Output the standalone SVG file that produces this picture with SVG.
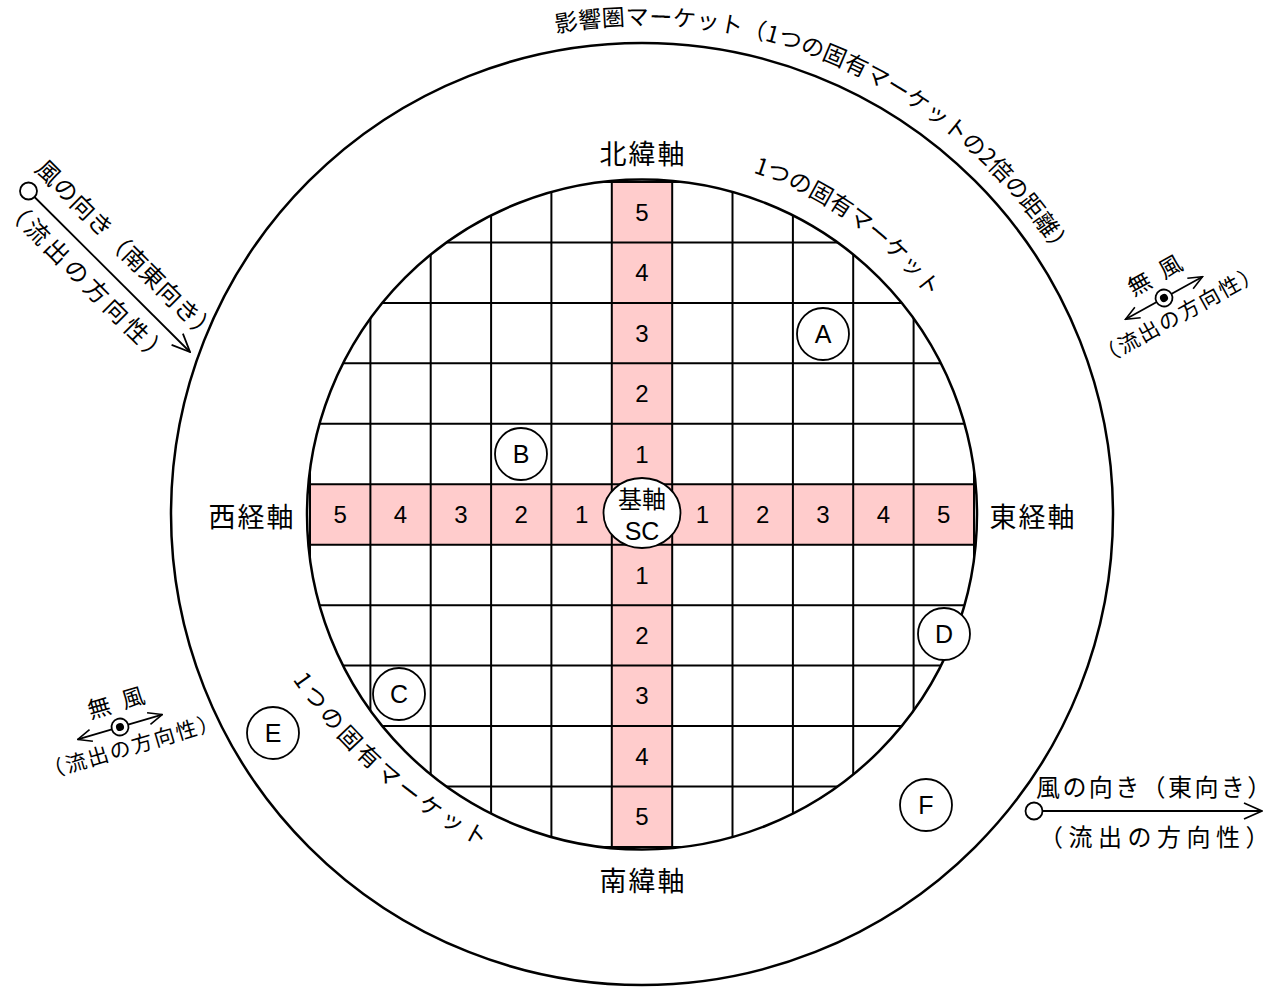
<svg xmlns="http://www.w3.org/2000/svg" width="1268" height="988" viewBox="0 0 1268 988">
<style>
.grid{fill:none;stroke:#000;stroke-width:2}
.ring{fill:none;stroke:#000;stroke-width:2.5}
.band{fill:#FFCCCC}
.num{font-family:"Liberation Sans",Arial,sans-serif;font-size:24px;text-anchor:middle;fill:#000}
.let{font-family:"Liberation Sans",Arial,sans-serif;font-size:25px;text-anchor:middle;fill:#000}
.jp{font-family:"Noto Sans CJK JP","Liberation Sans",sans-serif;fill:#000}
.axis{font-size:27px;text-anchor:middle;letter-spacing:2px}
.node circle,.node ellipse{fill:#fff;stroke:#000;stroke-width:1.8}
.arrow{fill:none;stroke:#000;stroke-width:1.8}
.half{font-feature-settings:"halt"}
</style>
<defs>
<clipPath id="innerClip"><circle cx="642" cy="514.5" r="335"/></clipPath>
<marker id="head" viewBox="0 0 20 20" refX="19" refY="10" markerWidth="20" markerHeight="20" markerUnits="userSpaceOnUse" orient="auto-start-reverse"><path d="M1,2 L19,10 L1,18" fill="none" stroke="#000" stroke-width="1.8"/></marker>
<marker id="headS" viewBox="0 0 16 16" refX="15" refY="8" markerWidth="16" markerHeight="16" markerUnits="userSpaceOnUse" orient="auto-start-reverse"><path d="M1,2 L15,8 L1,14" fill="none" stroke="#000" stroke-width="1.6"/></marker>
<path id="arcOuter" d="M556.2,32.6 A489,489 0 0 1 1129.1,471.4"/>
<path id="arcInnerNE" d="M752.9,172.6 A359,359 0 0 1 988.8,421.1"/>
<path id="arcInnerSW" d="M292.6,679.4 A509,509 0 0 0 625.6,895.3"/>
</defs>

<rect width="1268" height="988" fill="#fff"/>

<g id="influence-market">
<circle class="ring" cx="642" cy="514" r="471"/>
<text class="jp" font-size="23" letter-spacing="0.3"><textPath href="#arcOuter">影響圏マーケット（1つの固有マーケットの2倍の距離）</textPath></text>
</g>

<g id="own-market">
<g clip-path="url(#innerClip)">
<rect class="band" x="611.8" y="182" width="60.4" height="665"/>
<rect class="band" x="310" y="484.25" width="664" height="60.45"/>
<path class="grid" d="M310,182V847M370.4,182V847M430.7,182V847M491.1,182V847M551.4,182V847M611.8,182V847M672.2,182V847M732.5,182V847M792.9,182V847M853.2,182V847M913.6,182V847M974,182V847M310,182H974M310,242.45H974M310,302.9H974M310,363.35H974M310,423.8H974M310,484.25H974M310,544.7H974M310,605.15H974M310,665.6H974M310,726.05H974M310,786.5H974M310,847H974"/>
</g>
<circle class="ring" cx="642" cy="514.5" r="335"/>
<text class="jp" font-size="23" letter-spacing="0"><textPath href="#arcInnerNE">1つの固有マーケット</textPath></text>
<text class="jp" font-size="23" letter-spacing="4"><textPath href="#arcInnerSW">1つの固有マーケット</textPath></text>
</g>

<g id="grid-numbers">
<text class="num" x="642" y="220.8">5</text>
<text class="num" x="642" y="281.3">4</text>
<text class="num" x="642" y="341.7">3</text>
<text class="num" x="642" y="402.2">2</text>
<text class="num" x="642" y="462.6">1</text>
<text class="num" x="642" y="583.5">1</text>
<text class="num" x="642" y="644">2</text>
<text class="num" x="642" y="704.4">3</text>
<text class="num" x="642" y="764.9">4</text>
<text class="num" x="642" y="825.3">5</text>
<text class="num" x="340.2" y="523.1">5</text>
<text class="num" x="400.55" y="523.1">4</text>
<text class="num" x="460.9" y="523.1">3</text>
<text class="num" x="521.25" y="523.1">2</text>
<text class="num" x="581.6" y="523.1">1</text>
<text class="num" x="702.35" y="523.1">1</text>
<text class="num" x="762.7" y="523.1">2</text>
<text class="num" x="823.05" y="523.1">3</text>
<text class="num" x="883.4" y="523.1">4</text>
<text class="num" x="943.8" y="523.1">5</text>
</g>

<g id="axis-labels">
<text class="jp axis" x="643" y="164">北緯軸</text>
<text class="jp axis" x="643" y="891">南緯軸</text>
<text class="jp axis" x="252" y="527">西経軸</text>
<text class="jp axis" x="1033" y="527">東経軸</text>
</g>

<g id="connectors">
<line class="arrow" x1="34.5" y1="197" x2="190" y2="352" marker-end="url(#head)"/>
<line class="arrow" x1="1042.5" y1="811" x2="1262" y2="811" marker-end="url(#head)"/>
<line class="arrow" x1="-44" y1="0" x2="44" y2="0" transform="translate(1164,298) rotate(-29)" marker-start="url(#headS)" marker-end="url(#headS)"/>
<line class="arrow" x1="-44" y1="0" x2="44" y2="0" transform="translate(120,727) rotate(-16.4)" marker-start="url(#headS)" marker-end="url(#headS)"/>
</g>

<g id="node-SC" class="node">
<ellipse cx="642" cy="513" rx="38.5" ry="35"/>
<text class="jp" x="642" y="508" font-size="24" text-anchor="middle">基軸</text>
<text class="let" x="642" y="540" font-size="22">SC</text>
</g>
<g id="node-A" class="node"><circle cx="823" cy="334" r="26"/><text class="let" x="823" y="343">A</text></g>
<g id="node-B" class="node"><circle cx="521" cy="454" r="26"/><text class="let" x="521" y="463">B</text></g>
<g id="node-C" class="node"><circle cx="399" cy="694" r="26"/><text class="let" x="399" y="703">C</text></g>
<g id="node-D" class="node"><circle cx="944" cy="634" r="26"/><text class="let" x="944" y="643">D</text></g>
<g id="node-E" class="node"><circle cx="273" cy="733" r="26"/><text class="let" x="273" y="742">E</text></g>
<g id="node-F" class="node"><circle cx="926" cy="805" r="26"/><text class="let" x="926" y="814">F</text></g>

<g id="wind-southeast" class="node" transform="translate(28.5,191) rotate(45)">
<circle cx="0" cy="0" r="8.5"/>
<text class="jp" x="-11" y="-18.5" font-size="24" letter-spacing="0.5">風の向き（南東向き）</text>
<text class="jp" x="-5" y="31.5" font-size="24" letter-spacing="4">（流出の方向性）</text>
</g>

<g id="wind-east" class="node">
<circle cx="1034" cy="811" r="8.5"/>
<text class="jp" x="1036" y="796" font-size="24" letter-spacing="2.4">風の向き（東向き<tspan class="half" letter-spacing="0">）</tspan></text>
<text class="jp" x="1039" y="846" font-size="24" letter-spacing="5.5">（流出の方向性<tspan class="half" letter-spacing="0">）</tspan></text>
</g>

<g id="wind-calm-ne" class="node" transform="translate(1164,298) rotate(-29)">
<circle cx="0" cy="0" r="8.5"/>
<circle cx="0" cy="0" r="4" style="fill:#000;stroke:none"/>
<text class="jp" x="3" y="-16" font-size="23" text-anchor="middle" word-spacing="7">無 風</text>
<text class="jp" x="6" y="29.5" font-size="21" text-anchor="middle" letter-spacing="2">（流出の方向性）</text>
</g>

<g id="wind-calm-w" class="node" transform="translate(120,727) rotate(-16.4)">
<circle cx="0" cy="0" r="8.5"/>
<circle cx="0" cy="0" r="4" style="fill:#000;stroke:none"/>
<text class="jp" x="3" y="-16" font-size="23" text-anchor="middle" word-spacing="7">無 風</text>
<text class="jp" x="6" y="29.5" font-size="21" text-anchor="middle" letter-spacing="2">（流出の方向性）</text>
</g>
</svg>
